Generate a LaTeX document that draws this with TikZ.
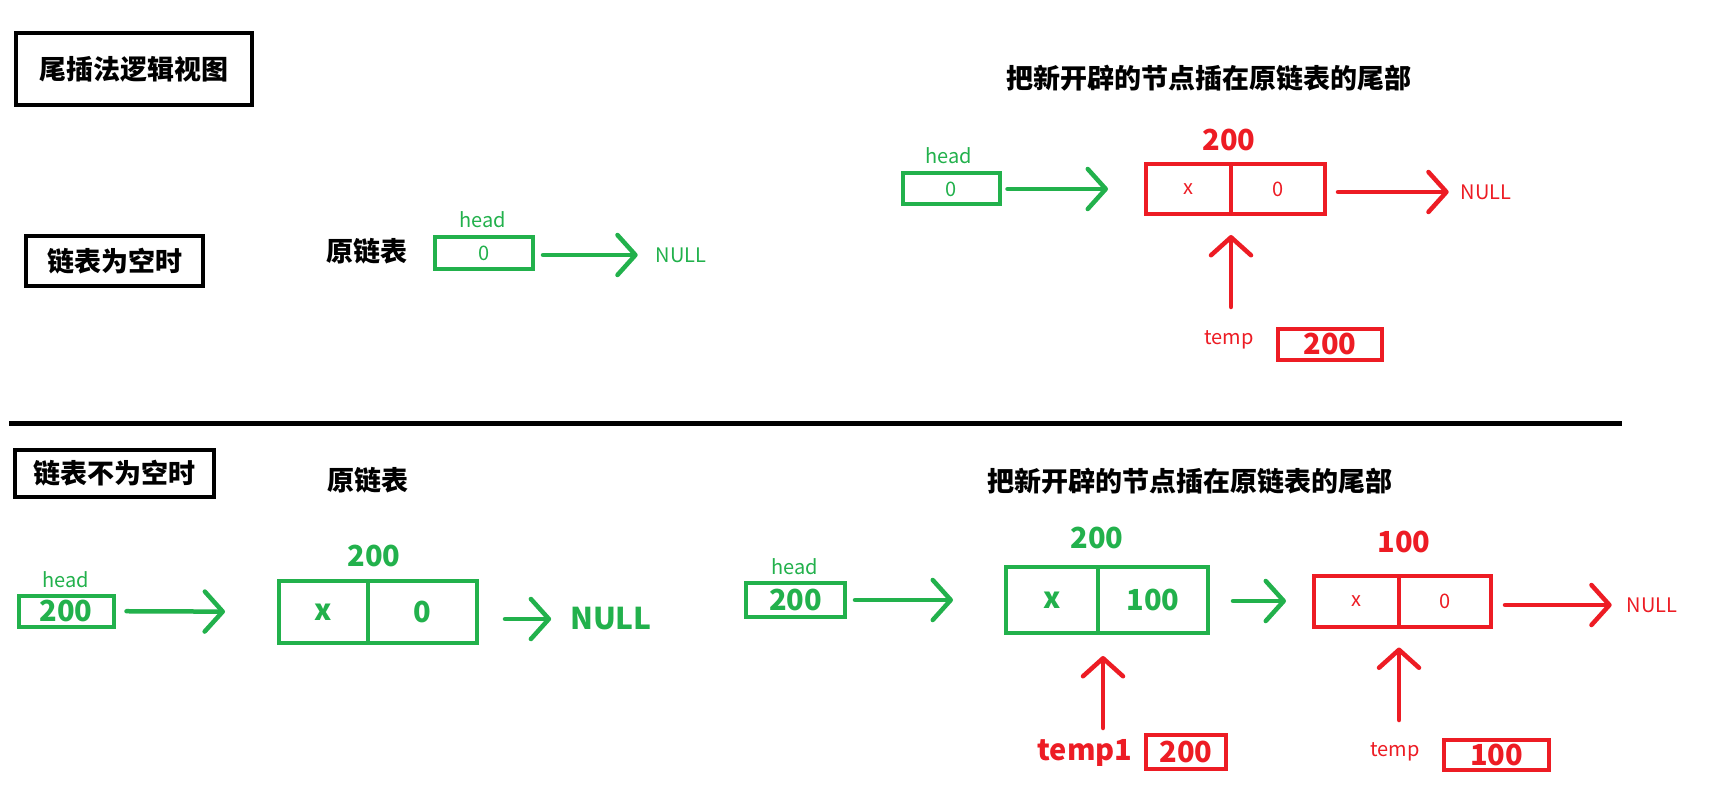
\documentclass[tikz,border=0pt]{standalone}
\usepackage{fontspec}
\setmainfont{Noto Sans CJK SC}
\usetikzlibrary{arrows.meta,positioning}
\definecolor{pgreen}{RGB}{34,177,76}
\definecolor{pred}{RGB}{237,28,36}
\newcommand\fsz[1]{\fontsize{#1}{#1}\selectfont}

\begin{document}
\begin{tikzpicture}[x=1pt, y=-1pt,
  every node/.style={inner sep=0pt, outer sep=0pt},
  capbox/.style={draw, line width=4.5pt, font=\fsz{27}\bfseries},
  cn/.style={font=\fsz{27}\bfseries},
  lbl/.style={font=\fsz{20}},
  num/.style={font=\fsz{29}\bfseries},
  gbox/.style={draw=pgreen, line width=4pt, text=pgreen},
  rbox/.style={draw=pred, line width=4pt, text=pred},
  garrow/.style={draw=pgreen, line width=4.5pt, line cap=round,
    -{Straight Barb[length=18pt, width=40pt, round]}},
  rarrow/.style={draw=pred, line width=4.5pt, line cap=round,
    -{Straight Barb[length=18pt, width=40pt, round]}}]

\fill[white] (0,0) rectangle (1723,786);

% Titles
\node[capbox, minimum width=236pt, minimum height=72pt] (title) at (134,69) {尾插法逻辑视图};
\node[capbox, minimum width=177pt, minimum height=50pt] (empty) at (114.5,261) {链表为空时};
\node[cn] (orig1) at (367,251) {原链表};

% Empty list
\node[gbox, lbl, minimum width=98pt, minimum height=32pt] (h1) at (484,253) {0};
\node[lbl, text=pgreen] (h1lbl) at (483,220) {head};
\node[lbl, text=pgreen] (null1) at (681,255) {NULL};
\draw[garrow, shorten <=10pt, shorten >=18pt] (h1.east |- null1) -- (null1);

% Insert first node
\node[cn] (ttl1) at (1209,78) {把新开辟的节点插在原链表的尾部};
\node[gbox, lbl, minimum width=97pt, minimum height=31pt] (h2) at (951,189) {0};
\node[lbl, text=pgreen] (h2lbl) at (949,156) {head};
\node[rbox, lbl, minimum width=85pt, minimum height=50pt] (n1x) at (1188.5,189) {x};
\node[rbox, lbl, minimum width=94pt, minimum height=50pt, right=0pt of n1x] (n1v) {0};
\node[num, text=pred] (a1) at (1229,140) {200};
\node[lbl, text=pred] (null2) at (1486,192) {NULL};
\draw[garrow, shorten <=8pt, shorten >=38pt] (h2) -- (n1x);
\draw[rarrow, shorten <=13pt, shorten >=12pt] (n1v.east |- null2) -- (null2);

% temp pointer
\node[lbl, text=pred] (t1lbl) at (1229,340) {temp};
\node[rbox, num, minimum width=104pt, minimum height=31pt] (t1) at (1330,344) {200};
\coordinate (t1tail) at (1231,307);
\draw[rarrow, shorten >=21pt] (t1tail) -- (t1tail |- n1x.south);

% Separator
\draw[line width=5pt] (9,423) -- (1622,423);

% Non-empty list
\node[capbox, minimum width=199pt, minimum height=47pt] (nonempty) at (114.5,473.5) {链表不为空时};
\node[cn] (orig2) at (368,480) {原链表};
\node[gbox, num, minimum width=95pt, minimum height=31pt] (h3) at (66,611) {200};
\node[lbl, text=pgreen] (h3lbl) at (66,580) {head};
\node[gbox, num, minimum width=89pt, minimum height=62pt] (n2x) at (323.5,612) {x};
\node[gbox, num, minimum width=109pt, minimum height=62pt, right=0pt of n2x] (n2v) {0};
\node[num, text=pgreen] (a2) at (374,556) {200};
\node[num, font=\fsz{30}\bfseries, text=pgreen] (null3) at (611,619) {NULL};
\draw[garrow, shorten <=13pt, shorten >=54pt] (h3) -- (n2x);
\draw[garrow, shorten <=28pt, shorten >=19pt] (n2v.east |- null3) -- (null3);

% Insert at tail
\node[cn] (ttl2) at (1190,481) {把新开辟的节点插在原链表的尾部};
\node[gbox, num, minimum width=99pt, minimum height=34pt] (h4) at (795.5,600) {200};
\node[lbl, text=pgreen] (h4lbl) at (795,567) {head};
\node[gbox, num, minimum width=92pt, minimum height=66pt] (n3x) at (1052,600) {x};
\node[gbox, num, minimum width=110pt, minimum height=66pt, right=0pt of n3x] (n3v) {100};
\node[num, text=pgreen] (a3) at (1097,538) {200};
\node[rbox, lbl, minimum width=85pt, minimum height=51pt] (n4x) at (1356.5,601) {x};
\node[rbox, lbl, minimum width=92pt, minimum height=51pt, right=0pt of n4x] (n4v) {0};
\node[num, text=pred] (a4) at (1404,542) {100};
\node[lbl, text=pred] (null4) at (1652,605) {NULL};
\draw[garrow, shorten <=10pt, shorten >=53pt] (h4) -- (h4 -| n3x.west);
\draw[garrow, shorten <=25pt, shorten >=28pt] (n3v.east |- n4x) -- (n4x);
\draw[rarrow, shorten <=14pt, shorten >=15pt] (n4v.east |- null4) -- (null4);

% temp1 and temp pointers
\node[num, text=pred] (t2lbl) at (1085,753) {temp1};
\node[rbox, num, minimum width=80pt, minimum height=34pt] (t2) at (1186,752) {200};
\coordinate (t2tail) at (1103,728);
\draw[rarrow, shorten >=23pt] (t2tail) -- (t2tail |- n3x.south);
\node[lbl, text=pred] (t3lbl) at (1395,752) {temp};
\node[rbox, num, minimum width=105pt, minimum height=30pt] (t3) at (1496.5,755) {100};
\coordinate (t3tail) at (1399,720);
\draw[rarrow, shorten >=21pt] (t3tail) -- (t3tail |- n4x.south);

\end{tikzpicture}
\end{document}
